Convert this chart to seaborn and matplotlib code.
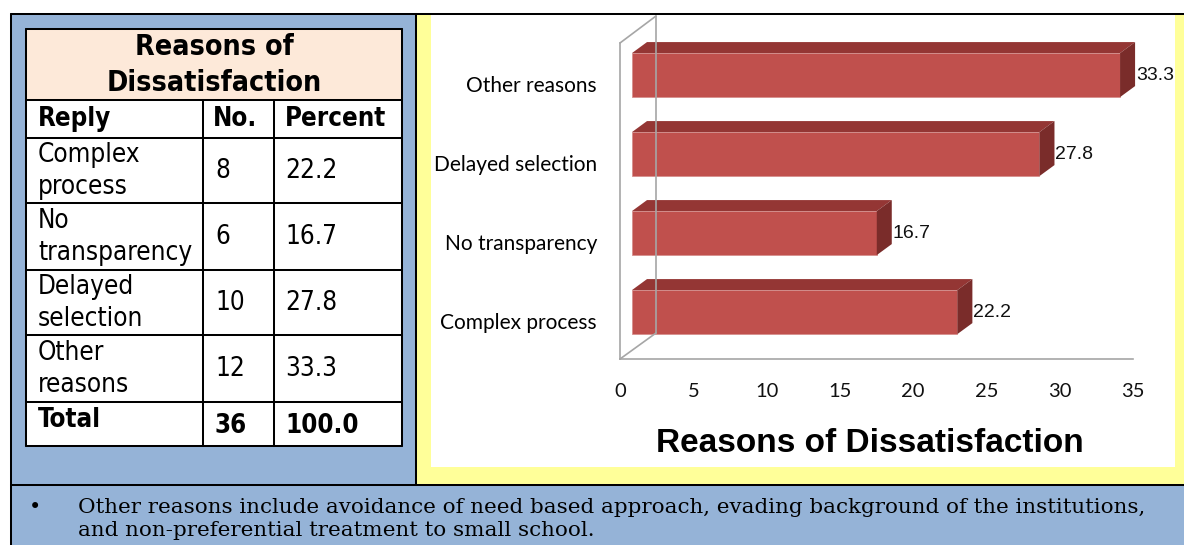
import os
import matplotlib
matplotlib.use("Agg")
import matplotlib.pyplot as plt
import pandas as pd
import seaborn as sns
from matplotlib import font_manager
from matplotlib.patches import Rectangle, Polygon
from matplotlib.transforms import offset_copy

# data
replies = ["Complex process", "No transparency", "Delayed selection", "Other reasons"]
table_replies = ["Complex\nprocess", "No\ntransparency", "Delayed\nselection", "Other\nreasons"]
counts = [8, 6, 10, 12]
percents = [22.2, 16.7, 27.8, 33.3]
x_ticks = [0, 5, 10, 15, 20, 25, 30, 35]
chart_title = "Reasons of Dissatisfaction"
table_title = "Reasons of\nDissatisfaction"
note = ("Other reasons include avoidance of need based approach, evading background of the institutions,\n"
        "and non-preferential treatment to small school.")

BLUE = "#95B3D7"
YELLOW = "#FFFF99"
PEACH = "#FDE9D9"
BAR = "#C0504D"
BAR_TOP = "#943634"
BAR_SIDE = "#7A2C2A"
WALL = "#A6A6A6"


def table_font(bold, size):
    target = "DejaVuSansCondensed-Bold.ttf" if bold else "DejaVuSansCondensed.ttf"
    for f in font_manager.fontManager.ttflist:
        if os.path.basename(f.fname) == target:
            return font_manager.FontProperties(fname=f.fname, size=size)
    return font_manager.FontProperties(family="DejaVu Sans",
                                       weight="bold" if bold else "normal",
                                       size=size * 0.89)


sns.set_style("white")
plt.rcParams["font.family"] = ["Lato", "DejaVu Sans"]
plt.rcParams["text.color"] = "black"
plt.rcParams["axes.labelcolor"] = "black"

fig = plt.figure(figsize=(11.84, 5.45), dpi=100)

# background frame in pixel coords
bg = fig.add_axes([0, 0, 1, 1])
bg.set_xlim(0, 1184)
bg.set_ylim(545, 0)
bg.axis("off")

bg.add_patch(Rectangle((11, 14), 405, 472, fc=BLUE, ec="none"))
bg.add_patch(Rectangle((416, 14), 768, 471, fc=YELLOW, ec="none"))
bg.add_patch(Rectangle((431, 15), 744, 452, fc="white", ec="none"))
bg.add_patch(Rectangle((11, 485), 1173, 60, fc=BLUE, ec="none"))
lw_px = 1.45
bg.plot([11, 1184], [14, 14], color="black", lw=lw_px)
bg.plot([11, 11], [14, 545], color="black", lw=lw_px)
bg.plot([416, 416], [14, 485], color="black", lw=lw_px)
bg.plot([11, 1184], [485, 485], color="black", lw=lw_px)

# table
row_edges = [29, 100, 138, 203, 270, 335, 402, 446]
col_edges = [26, 203, 274, 402]
bg.add_patch(Rectangle((26, 29), 376, 71, fc=PEACH, ec="none"))
bg.add_patch(Rectangle((26, 100), 376, 346, fc="white", ec="none"))
for y in row_edges:
    bg.plot([26, 402], [y, y], color="black", lw=lw_px)
bg.plot([26, 26], [29, 446], color="black", lw=lw_px)
bg.plot([402, 402], [29, 446], color="black", lw=lw_px)
for x in col_edges[1:-1]:
    bg.plot([x, x], [100, 446], color="black", lw=lw_px)

bg.text(214, 65, table_title, ha="center", va="center", linespacing=1.36,
        fontproperties=table_font(True, 20.5))
fb = table_font(True, 18.5)
fr = table_font(False, 18.7)
bg.text(38, 119, "Reply", ha="left", va="center", fontproperties=fb)
bg.text(213, 119, "No.", ha="left", va="center", fontproperties=fb)
bg.text(285, 119, "Percent", ha="left", va="center", fontproperties=fb)
for i, (r, n, p) in enumerate(zip(table_replies, counts, percents)):
    yc = (row_edges[i + 2] + row_edges[i + 3]) / 2
    bg.text(38, yc, r, ha="left", va="center", linespacing=1.3, fontproperties=fr)
    bg.text(215, yc, str(n), ha="left", va="center", fontproperties=fr)
    bg.text(285, yc, f"{p:.1f}", ha="left", va="center", fontproperties=fr)
bg.text(38, 420, "Total", ha="left", va="center", fontproperties=fb)
bg.text(215, 426, str(sum(counts)), ha="left", va="center", fontproperties=fb)
bg.text(285, 426, f"{sum(percents):.1f}", ha="left", va="center", fontproperties=fb)

# note under the panels
bg.text(29, 507, "\u2022", ha="left", va="center", fontsize=15, family="DejaVu Sans")
bg.text(78, 519, note, ha="left", va="center", linespacing=1.3,
        fontsize=15.4, family="DejaVu Serif")

# chart
ax = fig.add_axes([620 / 1184, 1 - 359 / 545, 513 / 1184, 316 / 545])
ax.patch.set_alpha(0)
df = pd.DataFrame({"Reply": replies[::-1], "Percent": percents[::-1]})
sns.barplot(data=df, x="Percent", y="Reply", orient="h", color=BAR, saturation=1,
            width=0.557, edgecolor="#D6908E", linewidth=0.6, ax=ax)
ax.set_xlim(0, 35)
ax.set_ylim(3.48, -0.52)

# pixel -> data conversion for the 3d look
w_px = ax.get_position().width * fig.bbox.width
h_px = ax.get_position().height * fig.bbox.height
dxp = 35 / w_px
dyp = 4.0 / h_px


def shift(x, y, ox, oy):
    return (x + ox * dxp, y - oy * dyp)


front = offset_copy(ax.transData, fig=fig, x=12, y=9, units="dots")
for bar in list(ax.patches):
    v = bar.get_width()
    y0 = bar.get_y()
    y1 = y0 + bar.get_height()
    bar.set_transform(front)
    top = [shift(0, y0, 12, 9), shift(v, y0, 12, 9), shift(v, y0, 27, 20), shift(0, y0, 27, 20)]
    side = [shift(v, y0, 12, 9), shift(v, y0, 27, 20), shift(v, y1, 27, 20), shift(v, y1, 12, 9)]
    ax.add_patch(Polygon(top, closed=True, fc=BAR_TOP, ec="none", clip_on=False))
    ax.add_patch(Polygon(side, closed=True, fc=BAR_SIDE, ec="none", clip_on=False))
    ax.text(v, (y0 + y1) / 2, f"{v:.1f}", ha="left", va="center", fontsize=14,
            family="Liberation Sans", color="#111111",
            transform=offset_copy(ax.transData, fig=fig, x=28, y=9, units="dots"))

# walls
ytop, ybot = -0.52, 3.48
ax.plot(*zip(shift(0, ytop, 0, 0), shift(0, ytop, 36, 27)), color=WALL, lw=1.2, clip_on=False)
ax.plot(*zip(shift(0, ytop, 36, 27), shift(0, ybot, 36, 26)), color=WALL, lw=1.2, clip_on=False)
ax.plot(*zip(shift(0, ybot, 0, 0), shift(0, ybot, 36, 26)), color=WALL, lw=1.2, clip_on=False)

for s in ["top", "right"]:
    ax.spines[s].set_visible(False)
for s in ["left", "bottom"]:
    ax.spines[s].set_color(WALL)
    ax.spines[s].set_linewidth(1.2)

ax.set_xticks(x_ticks)
ax.tick_params(axis="x", length=0, pad=17, labelsize=14.5, labelcolor="#111111")
ax.tick_params(axis="y", length=0, pad=16.5, labelsize=15, labelcolor="black")
ax.set_ylabel("")
ax.set_xlabel(chart_title, fontsize=24, fontweight="bold", family="Liberation Sans",
              color="black")
ax.xaxis.set_label_coords(0.487, -0.266)
ax.xaxis.label.set_va("center")

fig.savefig("out.png", dpi=100)
